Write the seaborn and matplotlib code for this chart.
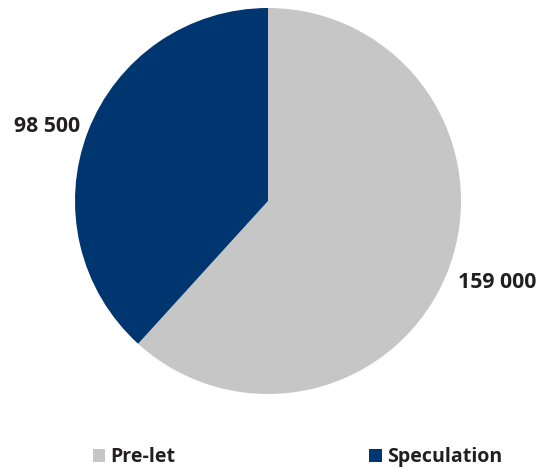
import matplotlib
matplotlib.use("Agg")
import matplotlib.pyplot as plt
import seaborn as sns
from matplotlib.patches import Patch

sns.set_theme(style="white")
plt.rcParams['font.family'] = ['Open Sans', 'DejaVu Sans']

categories = ["Pre-let", "Speculation"]
values = [159000, 98500]
value_labels = ["159 000", "98 500"]
colors = ["#c6c6c6", "#003670"]
text_color = "#231f20"

W, H = 539, 469
fig = plt.figure(figsize=(W / 100, H / 100), dpi=100)
cx, cy, r = 268, 201, 193
ax = fig.add_axes([(cx - r) / W, (H - cy - r) / H, 2 * r / W, 2 * r / H])
wedges, _ = ax.pie(values, colors=colors, startangle=90,
                   counterclock=False, radius=1,
                   wedgeprops=dict(linewidth=0))
ax.set_xlim(-1, 1)
ax.set_ylim(-1, 1)
ax.axis("off")

# value labels (layout positions in data units of the pie axes)
label_pos = [(0.984, -0.451, "left"), (-0.974, 0.358, "right")]
for txt, (x, y, ha) in zip(value_labels, label_pos):
    ax.text(x, y, txt, ha=ha, va="baseline", fontsize=15.3, fontweight="bold",
            color=text_color, clip_on=False)

handles = [Patch(facecolor=c, edgecolor="none") for c in colors]
leg = fig.legend(handles, categories, loc="center", bbox_to_anchor=(297.5 / W, 1 - 457 / H),
                 ncol=2, frameon=False, handlelength=0.66, handleheight=0.66,
                 handletextpad=0.25, columnspacing=9.9,
                 prop=dict(size=14.1, weight="bold"))
for t in leg.get_texts():
    t.set_color(text_color)

fig.savefig("out.png", dpi=100)
